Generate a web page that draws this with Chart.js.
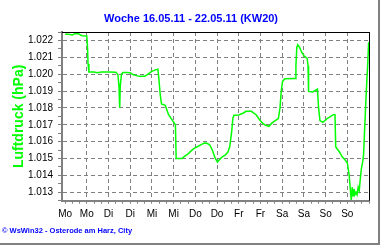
<!DOCTYPE html>
<html>
<head>
<meta charset="utf-8">
<script src="https://cdn.jsdelivr.net/npm/chart.js@4/dist/chart.umd.min.js"></script>
<style>
  html, body { margin: 0; padding: 0; background: #fff; }
  #wrap { position: relative; width: 380px; height: 245px; }
  #frame { position: absolute; left: 0; top: 0; width: 378px; height: 243px;
           border-right: 2px solid #808080; border-bottom: 2px solid #808080; pointer-events: none; }
</style>
</head>
<body>
<div id="wrap">
  <canvas id="chart" width="380" height="245"></canvas>
  <div id="frame"></div>
</div>
<script>
// hours since Monday 16.05.11 00:00
const hours = [0, 2, 4, 5.5, 7.5, 8.5, 9.5, 12, 12.4, 12.7, 13.2, 16, 18, 20, 24, 28, 29.2, 29.8, 30.2, 30.5,
  31.2, 32, 34, 36, 37.5, 39, 41, 44, 45.5, 47.7, 49.5, 51.3, 51.8, 52.6, 53.3, 55.4, 57.2, 59.7, 61, 61.4,
  64.6, 66, 68, 69.5, 71.3, 73.1, 75.5, 77, 78.5, 80, 81.4, 82.7, 84.2, 85.5, 86.9, 88.5, 90, 91, 92, 92.8,
  93.4, 96, 98.6, 100, 103, 105.7, 107.5, 109, 110.8, 112.7, 114.4, 116.2, 117.9, 118.8, 119.5, 120.2, 121.5, 127.1, 127.6, 128.1,
  128.6, 129.6, 130.8, 132.3, 133.8, 134.3, 134.6, 137, 139.5, 140.1, 140.9, 142.5, 145.3, 148.3, 149.2, 149.6, 150.5, 151.6, 153.2, 154.7,
  156, 157, 157.8, 158.2, 158.7, 159.2, 159.7, 160.2, 160.8, 161.4, 162, 162.6, 163.2, 163.8, 164.5, 165, 165.5, 166.3, 166.8, 167.3,
  167.8];
const pressure = [1.02236, 1.02236, 1.02232, 1.02240, 1.02240, 1.02232, 1.02228, 1.02226, 1.02160, 1.02060, 1.02013, 1.02013, 1.02009, 1.02013, 1.02013, 1.02011, 1.01998, 1.01928, 1.01800, 1.01930,
  1.02000, 1.02010, 1.02010, 1.02008, 1.01998, 1.01993, 1.01987, 1.01988, 1.01998, 1.02015, 1.02024, 1.02030, 1.01980, 1.01878, 1.01823, 1.01815, 1.01760, 1.01720, 1.01700, 1.01500,
  1.01500, 1.01513, 1.01528, 1.01544, 1.01560, 1.01570, 1.01584, 1.01592, 1.01590, 1.01580, 1.01550, 1.01510, 1.01478, 1.01495, 1.01510, 1.01520, 1.01538, 1.01570, 1.01650, 1.01740,
  1.01756, 1.01758, 1.01770, 1.01780, 1.01780, 1.01758, 1.01730, 1.01711, 1.01697, 1.01691, 1.01711, 1.01725, 1.01737, 1.01800, 1.01900, 1.01957, 1.01973, 1.01975, 1.02050, 1.02160,
  1.02174, 1.02160, 1.02130, 1.02105, 1.02095, 1.02050, 1.01898, 1.01895, 1.01912, 1.01805, 1.01725, 1.01714, 1.01740, 1.01760, 1.01760, 1.01570, 1.01555, 1.01540, 1.01510, 1.01493,
  1.01475, 1.01405, 1.01300, 1.01255, 1.01330, 1.01280, 1.01320, 1.01285, 1.01300, 1.01285, 1.01330, 1.01310, 1.01380, 1.01440, 1.01480, 1.01523, 1.01650, 1.01850, 1.01960, 1.02060,
  1.02190];

const dayLabels = ['Mo', 'Mo', 'Di', 'Di', 'Mi', 'Mi', 'Do', 'Do', 'Fr', 'Fr', 'Sa', 'Sa', 'So', 'So'];
const pressureTicks = [1.013, 1.014, 1.015, 1.016, 1.017, 1.018, 1.019, 1.020, 1.021, 1.022];

const titleText = 'Woche 16.05.11 - 22.05.11 (KW20)';
const footerText = '\u00a9 WsWin32 - Osterode am Harz, City';
const FONT = "'Liberation Sans', Arial, sans-serif";

// minor ticks every 4h on x, every 0.0005 on y
const xTicks = [];
for (let h = 0; h <= 168; h += 4) xTicks.push(h);
const yTicks = [];
for (let i = 0; i <= 20; i++) yTicks.push(+(1.0125 + i * 0.0005).toFixed(4));

const isMajorY = v => pressureTicks.some(t => Math.abs(t - v) < 1e-7);

const decor = {
  id: 'decor',
  afterDraw(chart) {
    const { ctx, chartArea: a } = chart;
    ctx.save();
    ctx.strokeStyle = '#000';
    ctx.lineWidth = 1;
    ctx.beginPath();
    ctx.moveTo(a.left, Math.round(a.top) + 0.5);
    ctx.lineTo(a.right + 1, Math.round(a.top) + 0.5);
    ctx.moveTo(Math.round(a.right) + 0.5, a.top);
    ctx.lineTo(Math.round(a.right) + 0.5, a.bottom);
    ctx.stroke();

    ctx.fillStyle = '#0000ff';
    ctx.font = 'bold 11px ' + FONT;
    ctx.textAlign = 'center';
    ctx.textBaseline = 'alphabetic';
    ctx.fillText(titleText, 191, 21.5);

    ctx.font = 'bold 7.5px ' + FONT;
    ctx.textAlign = 'left';
    ctx.fillText(footerText, 2, 233);
    ctx.restore();
  }
};

new Chart(document.getElementById('chart').getContext('2d'), {
  type: 'line',
  data: {
    datasets: [{
      data: hours.map((h, i) => ({ x: h, y: pressure[i] })),
      borderColor: '#00ff00',
      borderWidth: 1.5,
      pointRadius: 0,
      tension: 0,
      fill: false
    }]
  },
  options: {
    responsive: false,
    animation: false,
    devicePixelRatio: 1,
    layout: { padding: { left: 0, right: 11, top: 32, bottom: 20.3 } },
    plugins: { legend: { display: false }, tooltip: { enabled: false }, title: { display: false } },
    scales: {
      x: {
        type: 'linear',
        min: -1.7,
        max: 168,
        afterBuildTicks: s => { s.ticks = xTicks.map(v => ({ value: v })); },
        afterFit: s => { s.height = 24; },
        ticks: {
          autoSkip: false,
          maxRotation: 0,
          padding: 5,
          color: '#000',
          font: { family: FONT, size: 10 },
          callback: v => (v % 12 === 0 && v < 168) ? dayLabels[v / 12] : ''
        },
        grid: {
          color: c => (c.tick && c.tick.value % 12 === 0 && c.tick.value > 0) ? '#808080' : 'rgba(0,0,0,0)',
          borderDash: [4, 3],
          tickColor: '#808080',
          tickLength: 3
        },
        border: { display: true, color: '#808080', width: 2, dash: [4, 3] }
      },
      y: {
        min: 1.0125,
        max: 1.0225,
        afterBuildTicks: s => { s.ticks = yTicks.map(v => ({ value: v })); },
        afterFit: s => { s.width = 62; },
        ticks: {
          autoSkip: false,
          padding: 5,
          color: '#000',
          font: { family: FONT, size: 10 },
          callback: v => isMajorY(v) ? v.toFixed(3) : ''
        },
        grid: {
          color: c => (c.tick && isMajorY(c.tick.value)) ? '#808080' : 'rgba(0,0,0,0)',
          borderDash: [4, 3],
          tickColor: '#808080',
          tickLength: 4
        },
        border: { display: true, color: '#808080', width: 2, dash: [4, 3] },
        title: {
          display: true,
          text: 'Luftdruck (hPa)',
          color: '#00ff00',
          font: { family: FONT, size: 14, weight: 'bold' },
          padding: { top: 10.6, bottom: 0 }
        }
      }
    }
  },
  plugins: [decor]
});
</script>
</body>
</html>
